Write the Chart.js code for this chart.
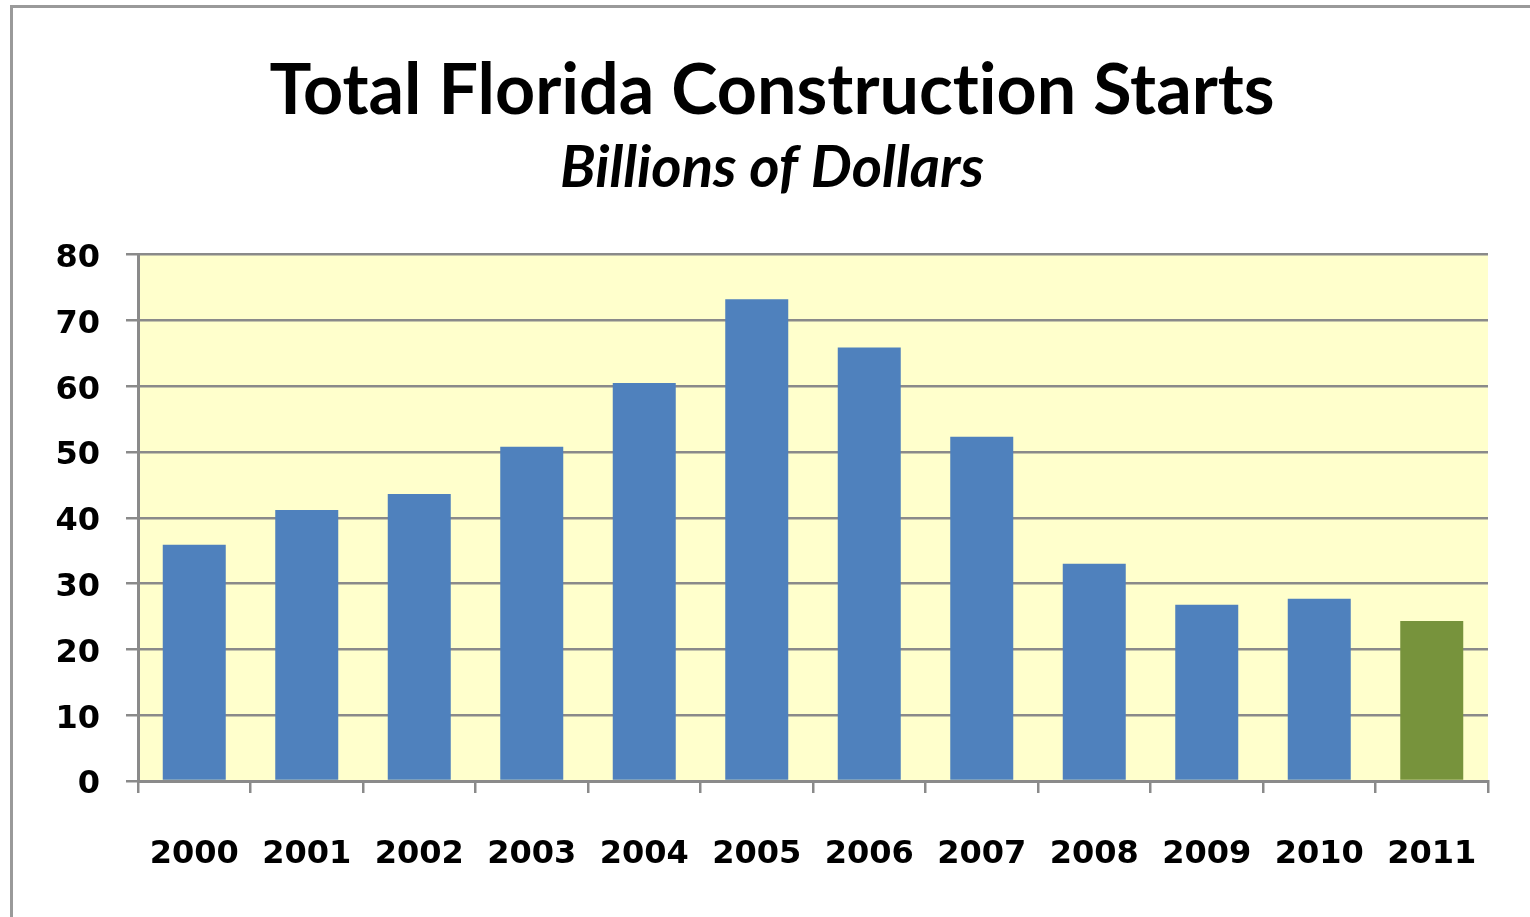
<!DOCTYPE html>
<html>
<head>
<meta charset="utf-8">
<script src="https://cdn.jsdelivr.net/npm/chart.js@4/dist/chart.umd.min.js"></script>
<style>
  html, body { margin: 0; padding: 0; background: #fff; }
  #wrap { width: 1530px; height: 917px; position: relative; }
</style>
</head>
<body>
<div id="wrap"><canvas id="starts"></canvas></div>
<script>
const years = ['2000', '2001', '2002', '2003', '2004', '2005', '2006', '2007', '2008', '2009', '2010', '2011'];
const startsBillions = [35.9, 41.2, 43.6, 50.8, 60.5, 73.2, 65.9, 52.3, 33.0, 26.8, 27.7, 24.3];
const barColors = ['#4f81bd', '#4f81bd', '#4f81bd', '#4f81bd', '#4f81bd', '#4f81bd',
  '#4f81bd', '#4f81bd', '#4f81bd', '#4f81bd', '#4f81bd', '#77933c'];
const yTicks = [0, 10, 20, 30, 40, 50, 60, 70, 80];

const axisGray = '#8a8a8a';
const tickFont = { family: 'DejaVu Sans', weight: 'bold', size: 32 };

// yellow plot background + outer frame
const backdrop = {
  id: 'backdrop',
  beforeDraw(chart) {
    const { ctx, chartArea } = chart;
    ctx.save();
    ctx.fillStyle = '#ffffcc';
    ctx.fillRect(chartArea.left, chartArea.top, chartArea.right - chartArea.left, chartArea.bottom - chartArea.top);
    ctx.strokeStyle = '#9a9a9a';
    ctx.lineWidth = 3;
    ctx.strokeRect(11.5, 6.5, 1700, 1100);
    ctx.restore();
  }
};

new Chart(document.getElementById('starts'), {
  type: 'bar',
  data: {
    labels: years,
    datasets: [{
      data: startsBillions,
      backgroundColor: barColors,
      borderWidth: 0,
      barPercentage: 0.56,
      categoryPercentage: 1
    }]
  },
  options: {
    responsive: true,
    maintainAspectRatio: false,
    animation: false,
    // left/right padding shifts the title centre to match the original
    layout: { padding: { top: 0, left: 56, right: 42, bottom: 0 } },
    scales: {
      x: {
        afterFit(scale) { scale.height = 136; },
        grid: {
          offset: true,
          drawOnChartArea: false,
          drawTicks: true,
          tickLength: 12,
          color: axisGray,
          lineWidth: 2.5
        },
        border: { color: axisGray, width: 3 },
        ticks: { color: '#000', font: tickFont, padding: 42, maxRotation: 0 }
      },
      y: {
        min: 0,
        max: 80,
        afterFit(scale) { scale.width = 82; },
        afterBuildTicks(scale) { scale.ticks = yTicks.map(v => ({ value: v })); },
        grid: {
          color: axisGray,
          lineWidth: 2.5,
          tickLength: 12
        },
        border: { color: axisGray, width: 3 },
        ticks: { color: '#000', font: tickFont, padding: 26, labelOffset: 4 }
      }
    },
    plugins: {
      legend: { display: false },
      tooltip: { enabled: false },
      title: {
        display: true,
        // \u200C keeps Lato from using its "ti" ligature
        text: 'Total Florida Construct\u200Cion Starts',
        color: '#000',
        font: { family: 'Lato', weight: 'bold', size: 70, lineHeight: 1.2 },
        padding: { top: 49, bottom: 0 }
      },
      subtitle: {
        display: true,
        text: 'Billions of Dollars',
        color: '#000',
        font: { family: 'Lato', weight: 'bold', style: 'italic', size: 58, lineHeight: 1.2 },
        padding: { top: 0, bottom: 52 }
      }
    }
  },
  plugins: [backdrop]
});
</script>
</body>
</html>
